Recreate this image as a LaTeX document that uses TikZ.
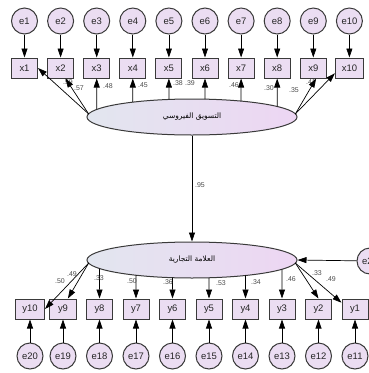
\documentclass[tikz,border=0pt]{standalone}
\usepackage{fontspec}
\setmainfont{Liberation Sans}
\newfontfamily\arabicfont[Script=Arabic]{DejaVu Sans}
\TeXXeTstate=1
\usetikzlibrary{shapes.geometric,arrows.meta,calc}
\definecolor{nodefill}{HTML}{EBDDF2}
\definecolor{edgecol}{HTML}{3A3A3A}
\definecolor{elleft}{HTML}{E2E6EF}
\definecolor{elright}{HTML}{EDD6F3}
\begin{document}
\begin{tikzpicture}[x=1bp,y=-1bp,
 err/.style={circle,draw=edgecol,line width=1bp,fill=nodefill,minimum size=26bp,inner sep=0pt,font=\fontsize{9.5}{10}\selectfont,text=black!85},
 obs/.style={rectangle,draw=edgecol,line width=1bp,fill=nodefill,minimum width=26bp,minimum height=20bp,inner sep=0pt,font=\fontsize{9.5}{10}\selectfont,text=black!85},
 lat/.style={ellipse,draw=edgecol,line width=1bp,left color=elleft,right color=elright,minimum width=210bp,minimum height=36bp,inner sep=0pt,font=\fontsize{7.5}{8}\selectfont},
 arr/.style={-{Triangle[length=9bp,width=6bp]},line width=0.7bp,black},
 coef/.style={font=\fontsize{7}{8}\selectfont,text=black!70,inner sep=0pt}]
\useasboundingbox (0,0) rectangle (369,373);
% latent variables
\node[lat] (f1) at (192,117) {\arabicfont\beginR التسويق الفيروسي\endR};
\node[lat] (f2) at (192,260) {\arabicfont\beginR العلامة التجارية\endR};
\draw[arr] (f1.south) -- (f2.north);
\node[coef] at (200,185) {.95};
% top indicators
\foreach \i in {1,...,10}{
  \pgfmathsetmacro\xx{24.5+36.1*(\i-1)}
  \node[err] (e\i) at (\xx,21) {e\i};
  \ifnum\i=10
    \node[obs,minimum width=28bp] (x\i) at (\xx,68) {x\i};
  \else
    \node[obs] (x\i) at (\xx,68) {x\i};
  \fi
  \draw[arr] (e\i) -- (x\i);
}
% coefficient labels (top)
\node[coef] at (68,82) {.59};
\node[coef] at (79,88) {.57};
\node[coef] at (108,86) {.48};
\node[coef] at (143,85) {.45};
\node[coef] at (178,83) {.38};
\node[coef] at (190,83) {.39};
\node[coef] at (234,85) {.46};
\node[coef] at (269,88) {.30};
\node[coef] at (294,90) {.35};
\node[coef] at (311,82) {.41};
% loadings top
\coordinate (f1l) at ($(f1.center)+(-170:105 and 18)$);
\coordinate (f1r) at ($(f1.center)+(-10:105 and 18)$);
\draw[arr] (f1l) -- (x1.east);
\draw[arr] (f1l) -- (x2.-65);
\foreach \i in {3,...,8}{
  \pgfmathsetmacro\tt{-acos((24.5+36.1*(\i-1)-192)/105)}
  \draw[arr] ($(f1.center)+(\tt:105 and 18)$) -- (x\i.south);
}
\draw[arr] (f1r) -- (x9.-75);
\draw[arr] (f1r) -- (x10.200);
% bottom indicators
\node[obs,minimum width=29bp] (y10) at (30,309) {y10};
\node[err] (e20) at (30,356) {e20};
\draw[arr] (e20) -- (y10);
\foreach \j [count=\k] in {9,...,1}{
  \pgfmathsetmacro\xx{63+36.5*(\k-1)}
  \pgfmathtruncatemacro\ee{\j+10}
  \node[obs] (y\j) at (\xx,309) {y\j};
  \node[err] (e\ee) at (\xx,356) {e\ee};
  \draw[arr] (e\ee) -- (y\j);
}
\node[err] (e21) at (370,261) {e21};
\draw[arr] (e21) -- (f2.east);
% bottom loadings
\coordinate (f2l) at ($(f2.center)+(170:105 and 18)$);
\coordinate (f2r) at ($(f2.center)+(10:105 and 18)$);
\draw[arr] (f2l) -- (y10.east);
\draw[arr] (f2l) -- (y9.65);
\foreach \j [count=\k] in {8,...,3}{
  \pgfmathsetmacro\tt{acos((99.5+36.5*(\k-1)-192)/105)}
  \draw[arr] ($(f2.center)+(\tt:105 and 18)$) -- (y\j.north);
}
\draw[arr] (f2r) -- (y2.north);
\draw[arr] (f2r) -- (y1.155);
% coefficient labels (bottom)
\node[coef] at (60,281) {.50};
\node[coef] at (72,274) {.49};
\node[coef] at (99,278) {.33};
\node[coef] at (132,281) {.50};
\node[coef] at (168,282) {.36};
\node[coef] at (221,283) {.53};
\node[coef] at (256,282) {.34};
\node[coef] at (291,279) {.46};
\node[coef] at (317,273) {.33};
\node[coef] at (331,279) {.49};
\end{tikzpicture}
\end{document}
